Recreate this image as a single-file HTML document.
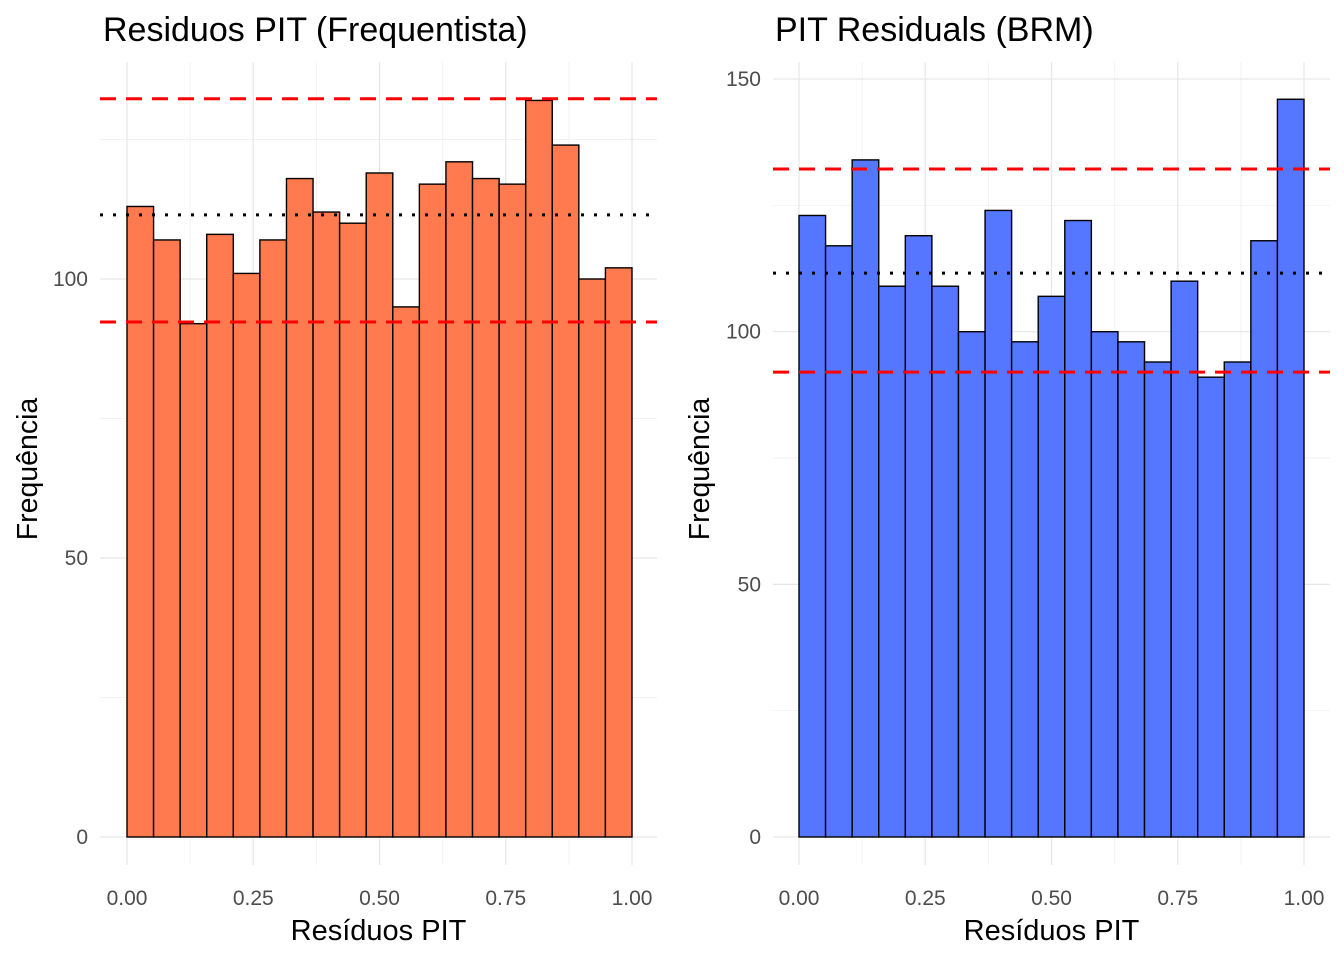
<!DOCTYPE html>
<html><head><meta charset="utf-8"><style>
body{margin:0;background:#fff;font-family:"Liberation Sans",Arial,sans-serif}
svg text{font-family:"Liberation Sans",Arial,sans-serif}
</style></head><body>
<svg id="c" width="1344" height="960" xmlns="http://www.w3.org/2000/svg"></svg>
<script>
const leftCounts=[113,107,92,108,101,107,118,112,110,119,95,117,121,118,117,132,124,100,102];
const rightCounts=[123,117,134,109,119,109,100,124,98,107,122,100,98,94,110,91,94,118,146];
const leftRefs=[132.3,92.3];const leftMean=111.5;
const rightRefs=[132.2,92.0];const rightMean=111.6;
const xTicks=[0,0.25,0.5,0.75,1];
const xTickLabels=["0.00","0.25","0.50","0.75","1.00"];
const leftYTicks=[0,50,100];
const rightYTicks=[0,50,100,150];
const NS="http://www.w3.org/2000/svg";
const svg=document.getElementById('c');
function mk(t,a,p){const e=document.createElementNS(NS,t);for(const k in a)e.setAttribute(k,a[k]);(p||svg).appendChild(e);return e;}
function panel(o){
  const g=mk('g',{});
  
  
  const X=v=>o.x0+(o.x1-o.x0)*v;
  const Y=v=>o.y0-o.k*v;
  const minorY=[];for(let v=25;v<o.ymax;v+=50)minorY.push(v);
  minorY.forEach(v=>mk('line',{x1:o.l,x2:o.r,y1:Y(v),y2:Y(v),stroke:'#f2f2f2','stroke-width':1},g));
  for(let v=0.125;v<1;v+=0.25)mk('line',{x1:X(v),x2:X(v),y1:o.t,y2:o.b,stroke:'#f2f2f2','stroke-width':1},g);
  o.yTicks.forEach(v=>mk('line',{x1:o.l,x2:o.r,y1:Y(v),y2:Y(v),stroke:'#e6e6e6','stroke-width':1.2},g));
  xTicks.forEach(v=>mk('line',{x1:X(v),x2:X(v),y1:o.t,y2:o.b,stroke:'#e6e6e6','stroke-width':1.2},g));
  const n=o.counts.length,w=(o.x1-o.x0)/n;
  o.counts.forEach((c,i)=>{const r=mk('rect',{x:o.x0+i*w,y:Y(c),width:w,height:Y(0)-Y(c),fill:o.fill,stroke:'#000','stroke-width':1.4},g);
    
    });
  o.refs.forEach(v=>{const l=mk('line',{x1:o.l,x2:o.r,y1:Y(v),y2:Y(v),stroke:'#ff0000','stroke-width':3,'stroke-dasharray':'16,10'},g);
    
    });
  const m=mk('line',{x1:o.l,x2:o.r,y1:Y(o.mean),y2:Y(o.mean),stroke:'#000','stroke-width':3,'stroke-dasharray':'3,10'},g);
  
  
  o.yTicks.forEach(v=>{const t=mk('text',{x:o.l-12,y:Y(v)+7,'text-anchor':'end','font-size':21,fill:'#4d4d4d'},g);t.textContent=v;
    
    });
  xTicks.forEach((v,i)=>{const t=mk('text',{x:X(v),y:905,'text-anchor':'middle','font-size':21,fill:'#4d4d4d'},g);t.textContent=xTickLabels[i];
    
    });
  const xt=mk('text',{x:(o.l+o.r)/2,y:940,'text-anchor':'middle','font-size':29,fill:'#000'},g);xt.textContent='Resíduos PIT';
  
  
  const yt=mk('text',{x:0,y:0,'text-anchor':'middle','font-size':28.5,fill:'#000',transform:`translate(${o.yl},469) rotate(-90)`},g);yt.textContent='Frequência';
  
  
  const tt=mk('text',{x:o.tx,y:41,'font-size':34,fill:'#000'},g);tt.textContent=o.title;
  
  
}
panel({name:'left-panel',x0:127,x1:632,y0:837,k:5.58,l:100,r:657,t:62,b:865,ymax:139,counts:leftCounts,refs:leftRefs,mean:leftMean,yTicks:leftYTicks,fill:'#ff7a4f',title:'Residuos PIT (Frequentista)',tx:103,yl:37});
panel({name:'right-panel',x0:799,x1:1304,y0:837,k:5.053,l:773,r:1330,t:62,b:865,ymax:153,counts:rightCounts,refs:rightRefs,mean:rightMean,yTicks:rightYTicks,fill:'#5577ff',title:'PIT Residuals (BRM)',tx:775,yl:709});
</script>
</body></html>
